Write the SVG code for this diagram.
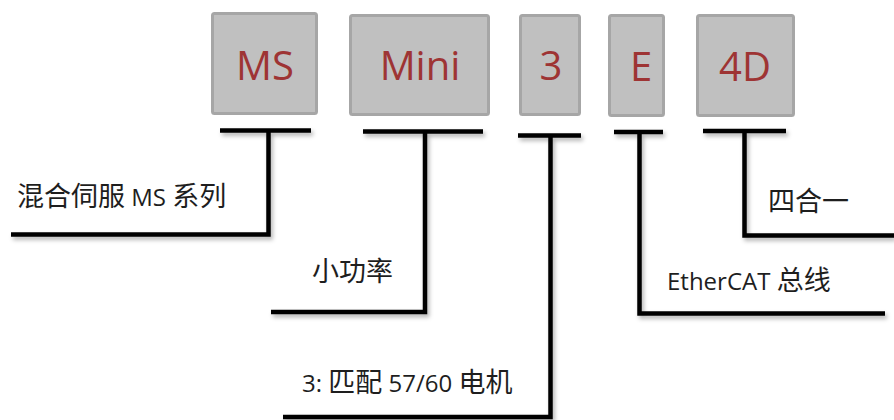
<svg xmlns="http://www.w3.org/2000/svg" width="894" height="420" viewBox="0 0 894 420">
<defs>
<filter id="sh" x="-10%" y="-10%" width="130%" height="130%">
<feDropShadow dx="2" dy="3" stdDeviation="2" flood-color="#000" flood-opacity="0.3"/>
</filter>
<style>
.box{fill:#c0c0c0;stroke:#a6a6a6;stroke-width:3}
.code{font-family:"Open Sans","Noto Sans",sans-serif;font-size:40px;fill:#9e3434;text-anchor:middle}
.lbl{font-family:"Open Sans","Noto Sans CJK SC",sans-serif;font-size:24px;fill:#1e1e1e}
.cj{font-size:27px}
.ln{fill:none;stroke:#000;stroke-width:4.5;stroke-linecap:butt;stroke-linejoin:miter}
</style>
</defs>
<rect width="894" height="420" fill="#fff"/>
<g id="node-ms">
<rect class="box" x="212.5" y="13.5" width="104" height="100" rx="2"/>
<text class="code" x="265" y="80">MS</text>
</g>
<g id="node-mini">
<rect class="box" x="350.5" y="15.5" width="138" height="99" rx="2"/>
<text class="code" x="420" y="80">Mini</text>
</g>
<g id="node-3">
<rect class="box" x="520.5" y="15.5" width="59" height="99" rx="2"/>
<text class="code" x="551" y="80">3</text>
</g>
<g id="node-e">
<rect class="box" x="609.5" y="15.5" width="54" height="100" rx="2"/>
<text class="code" x="641" y="81">E</text>
</g>
<g id="node-4d">
<rect class="box" x="697.5" y="15.5" width="96" height="100" rx="2"/>
<text class="code" x="745" y="81">4D</text>
</g>
<g id="connectors" filter="url(#sh)">
<path class="ln" d="M220 130.5H311 M268.5 130.5V234.5H11"/>
<path class="ln" d="M363 131.5H483 M425 131.5V312H271"/>
<path class="ln" d="M518 135.5H581 M550.5 135.5V417H283"/>
<path class="ln" d="M614 132H663 M639.5 132V313.5H885"/>
<path class="ln" d="M703 131H786 M744.5 131V235.5H894"/>
</g>
<g id="labels">
<text class="lbl" x="17" y="206"><tspan class="cj">混合伺服</tspan> MS <tspan class="cj">系列</tspan></text>
<text class="lbl cj" x="312" y="281">小功率</text>
<text class="lbl" x="302" y="392">3: <tspan class="cj">匹配</tspan> 57/60 <tspan class="cj">电机</tspan></text>
<text class="lbl" x="667" y="290">EtherCAT <tspan class="cj">总线</tspan></text>
<text class="lbl cj" x="768" y="211">四合一</text>
</g>
</svg>
